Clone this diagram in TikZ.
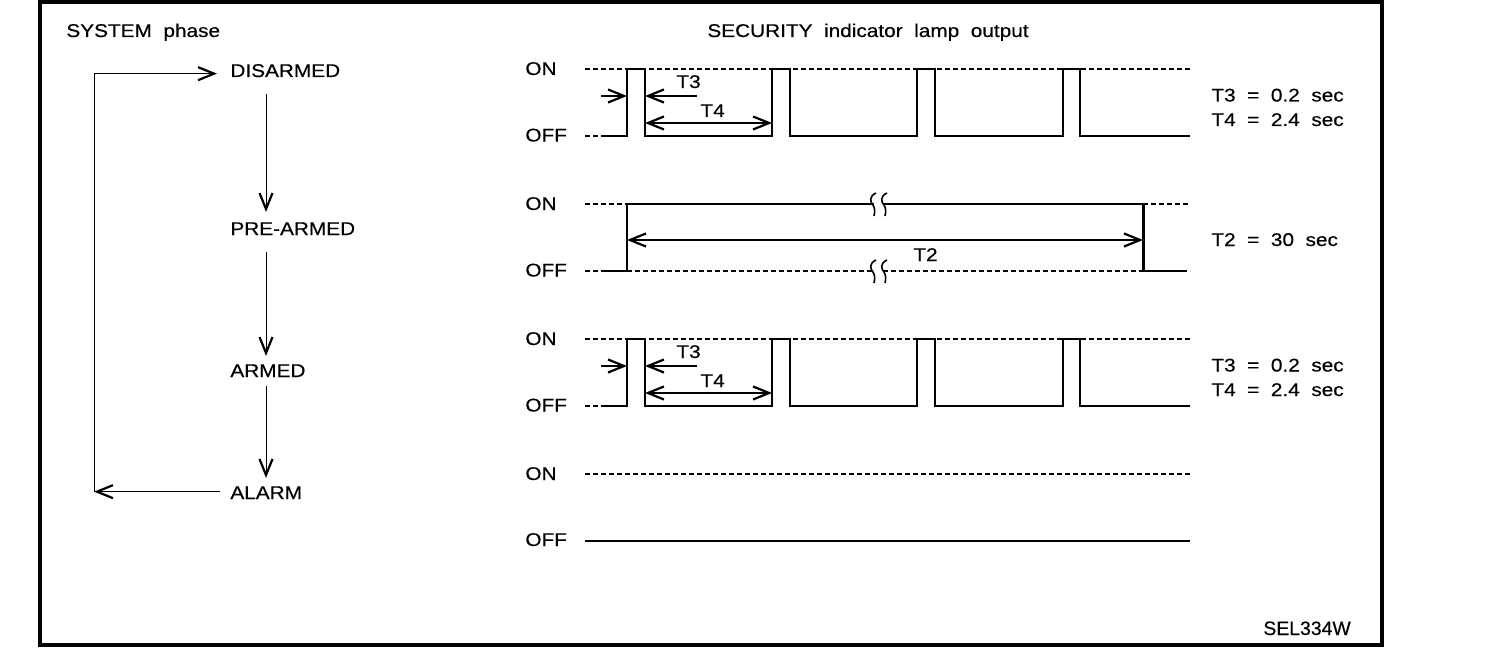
\documentclass[tikz,border=0pt]{standalone}
\usepackage{fontspec}
\setmainfont{Liberation Sans}[FakeStretch=1.13,WordSpace=2,FakeBold=0.4]
\newfontfamily\plainsans{Liberation Sans}[FakeBold=0.4]
\usetikzlibrary{arrows.meta,calc}
\begin{document}
\begin{tikzpicture}[x=0.5pt,y=-0.5pt,
  txt/.style={inner sep=0pt, anchor=base west, font=\fontsize{9.2}{11}\selectfont},
  flow/.style={line width=0.5pt},
  wave/.style={line width=1pt},
  dsh/.style={line width=0.9pt, dash pattern=on 2.5pt off 1.5pt},
  dim/.style={line width=0.7pt},
  tipend/.style={-{Straight Barb[length=8pt,width=6.5pt,line width=1.1pt]}},
  tipboth/.style={{Straight Barb[length=8pt,width=6.5pt,line width=1.1pt]}-{Straight Barb[length=8pt,width=6.5pt,line width=1.1pt]}},
  brk/.style={line width=0.8pt}]
\useasboundingbox (0,0) rectangle (1504,658);
\draw[line width=2pt] (40,2) rectangle (1382,645);

% titles
\node[txt] (t1) at (66,37) {SYSTEM phase};
\node[txt] (t2) at (707,37) {SECURITY indicator lamp output};

% system phases
\node[txt] (dis) at (230,77) {DISARMED};
\node[txt] (pre) at (230,235) {PRE-ARMED};
\node[txt] (arm) at (230,377) {ARMED};
\node[txt] (alm) at (230,499) {ALARM};
\coordinate (ax) at (266,0);
\coordinate (lx) at (94,0);
\draw[flow,tipend] ($(dis.south -| ax)+(0,16)$) -- ($(pre.north -| ax)+(0,-10)$);
\draw[flow,tipend] ($(pre.south -| ax)+(0,17)$) -- ($(arm.north -| ax)+(0,-8)$);
\draw[flow,tipend] ($(arm.south -| ax)+(0,9)$) -- ($(alm.north -| ax)+(0,-8)$);
\coordinate (ae) at ($(alm.west)+(-10,-1)$);
\coordinate (corner) at (lx |- ae);
\draw[flow,tipend] (ae) -- (corner);
\coordinate (de) at ($(dis.west)+(-13,3)$);
\draw[flow,tipend] (corner) |- (de);

% rows 1 and 3 : pulse trains
\foreach \dy/\r in {0/a,270/b}{
  \node[txt] (on\r) at (525,75+\dy) {ON};
  \node[txt] (off\r) at (525,141.5+\dy) {OFF};
  \draw[dsh] (585,69+\dy) -- (1190,69+\dy);
  \draw[dsh] (585,136+\dy) -- (603,136+\dy);
  \draw[wave] (603,136+\dy) -- (627,136+\dy) -- (627,69+\dy) -- (645,69+\dy) -- (645,136+\dy)
     -- (772,136+\dy) -- (772,69+\dy) -- (790,69+\dy) -- (790,136+\dy)
     -- (917,136+\dy) -- (917,69+\dy) -- (935,69+\dy) -- (935,136+\dy)
     -- (1063,136+\dy) -- (1063,69+\dy) -- (1080,69+\dy) -- (1080,136+\dy) -- (1190,136+\dy);
  \coordinate (r1\r) at (627,96+\dy);
  \coordinate (f1\r) at (645,96+\dy);
  \draw[dim,tipend] ($(r1\r)+(-26,0)$) -- (r1\r);
  \draw[dim,tipend] ($(f1\r)+(52,0)$) -- (f1\r);
  \node[txt] (t3\r) at (676,88+\dy) {T3};
  \coordinate (f4\r) at (645,123+\dy);
  \coordinate (r4\r) at (772,123+\dy);
  \draw[dim,tipboth] (f4\r) -- (r4\r);
  \node[txt] (t4\r) at (700,117+\dy) {T4};
  \node[txt] (v3\r) at (1211,101.5+\dy) {T3 = 0.2 sec};
  \node[txt] (v4\r) at (1211,126+\dy) {T4 = 2.4 sec};
}

% row 2 : T2
\node[txt] (on2) at (525,210) {ON};
\node[txt] (off2) at (525,276.5) {OFF};
\draw[dsh] (585,204) -- (627,204);
\draw[wave] (627,204) -- (1143,204);
\draw[dsh] (1143,204) -- (1190,204);
\draw[dsh] (585,271) -- (603,271);
\draw[wave] (603,271) -- (627,271) -- (627,204);
\draw[dsh] (627,271) -- (1143,271);
\draw[line width=1.5pt] (1143,204) -- (1143,271);
\draw[wave] (1143,271) -- (1182,271);
\draw[dsh] (1182,271) -- (1190,271);
\foreach \yy in {204,271}{
  \fill[white] (874,\yy-2) rectangle (883,\yy+2);
  \foreach \cx in {873,884}{
    \draw[brk] (\cx+3,\yy-11) .. controls (\cx-4,\yy-8) and (\cx-3,\yy-2) .. (\cx,\yy+1)
       .. controls (\cx+2,\yy+4) and (\cx+2,\yy+8) .. (\cx+1,\yy+12);
  }
}
\coordinate (s2) at (627,240);
\coordinate (e2) at (1143,240);
\draw[dim,tipboth] (s2) -- (e2);
\node[txt] (t2l) at (913,261) {T2};
\node[txt] (v2) at (1211,246) {T2 = 30 sec};

% row 4
\node[txt] (on4) at (525,480) {ON};
\node[txt] (off4) at (525,546) {OFF};
\draw[dsh] (585,474) -- (1190,474);
\draw[wave] (585,541) -- (1190,541);

\node[inner sep=0pt, anchor=base west, font=\plainsans\fontsize{9.7}{11}\selectfont] (code) at (1263,635) {SEL334W};
\end{tikzpicture}
\end{document}
